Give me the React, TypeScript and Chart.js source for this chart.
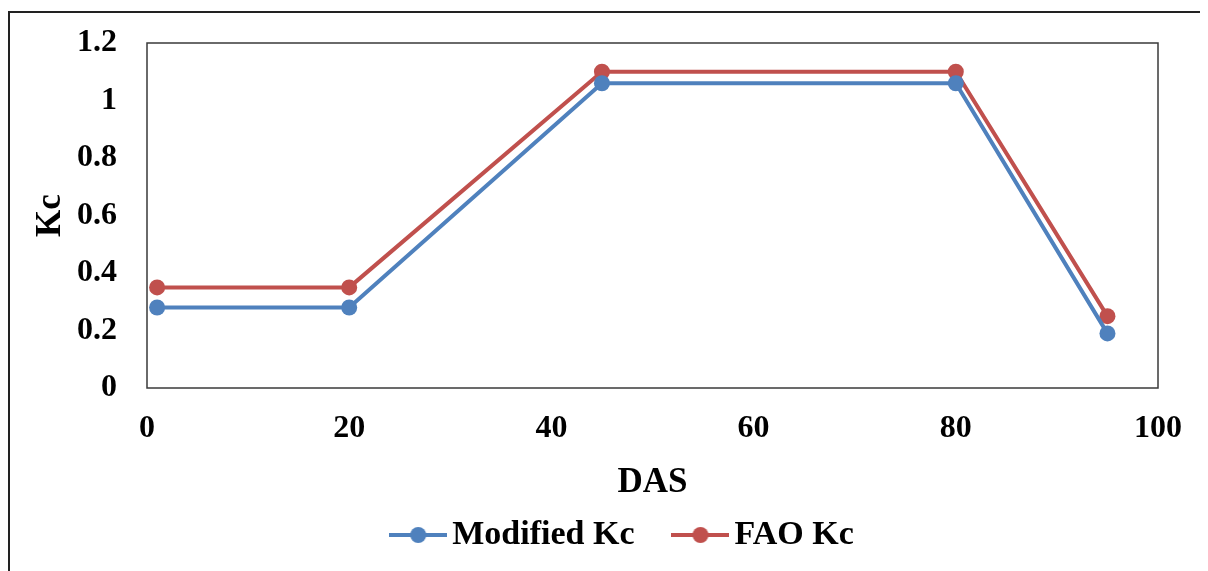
import React, { useEffect, useRef } from "react";
import { Chart, registerables } from "chart.js";

Chart.register(...registerables);

const das = [1, 20, 45, 80, 95];
const modifiedKc = [0.28, 0.28, 1.06, 1.06, 0.19];
const faoKc = [0.35, 0.35, 1.1, 1.1, 0.25];
const seriesNames = ["Modified Kc", "FAO Kc"];
const xTitle = "DAS";
const yTitle = "Kc";

const BLUE = "#4F81BD";
const RED = "#C0504D";
const FONT = "'Liberation Serif', 'Times New Roman', serif";

function makeMarker(color: string) {
  const c = document.createElement("canvas");
  c.width = 58;
  c.height = 20;
  const g = c.getContext("2d")!;
  g.strokeStyle = color;
  g.lineWidth = 4;
  g.beginPath();
  g.moveTo(0, 10);
  g.lineTo(58, 10);
  g.stroke();
  g.fillStyle = color;
  g.beginPath();
  g.arc(29, 10, 8, 0, Math.PI * 2);
  g.fill();
  return c;
}

const plotBorder = {
  id: "plotBorder",
  beforeDatasetsDraw(chart: any) {
    const { ctx, chartArea: a } = chart;
    ctx.save();
    ctx.strokeStyle = "#3a3a3a";
    ctx.lineWidth = 1.5;
    ctx.strokeRect(a.left, a.top, a.right - a.left, a.bottom - a.top);
    ctx.restore();
  },
};

const PL = 39;

export default function App() {
  const ref = useRef<HTMLCanvasElement>(null);
  useEffect(() => {
    const colors = [BLUE, RED];
    const markers = colors.map(makeMarker);
    const chart = new Chart(ref.current!, {
      type: "line",
      data: {
        datasets: [
          {
            label: seriesNames[0],
            data: das.map((x, i) => ({ x, y: modifiedKc[i] })),
            borderColor: BLUE,
            backgroundColor: BLUE,
            borderWidth: 4,
            pointRadius: 8,
            pointBorderWidth: 0,
            pointBackgroundColor: BLUE,
            tension: 0,
            clip: false as any,
          },
          {
            label: seriesNames[1],
            data: das.map((x, i) => ({ x, y: faoKc[i] })),
            borderColor: RED,
            backgroundColor: RED,
            borderWidth: 4,
            pointRadius: 8,
            pointBorderWidth: 0,
            pointBackgroundColor: RED,
            tension: 0,
            clip: false as any,
          },
        ],
      },
      options: {
        responsive: false,
        animation: false,
        events: [],
        layout: { padding: { left: PL, right: 0, top: 35, bottom: 46 } },
        plugins: {
          tooltip: { enabled: false },
          legend: {
            position: "bottom",
            labels: {
              usePointStyle: true,
              pointStyleWidth: 34,
              padding: 49,
              color: "#000",
              font: { family: FONT, size: 34, weight: "bold" },
              generateLabels: () =>
                seriesNames.map((t, i) => ({
                  text: t,
                  pointStyle: markers[i] as any,
                  fillStyle: colors[i],
                  strokeStyle: colors[i],
                  lineWidth: 0,
                  hidden: false,
                  datasetIndex: i,
                  fontColor: "#000",
                })),
            },
          },
        },
        scales: {
          x: {
            type: "linear",
            min: 0,
            max: 100,
            grid: { display: false, drawTicks: false },
            border: { display: false },
            ticks: {
              stepSize: 20,
              padding: 22,
              color: "#000",
              font: { family: FONT, size: 32, weight: "bold" },
            },
            title: {
              display: true,
              text: xTitle,
              color: "#000",
              font: { family: FONT, size: 35, weight: "bold" },
              padding: { top: 0, bottom: -34.5 },
            },
            afterFit: (s: any) => {
              s.height = 81;
            },
          },
          y: {
            type: "linear",
            min: 0,
            max: 1.2,
            grid: { display: false, drawTicks: false },
            border: { display: false },
            ticks: {
              stepSize: 0.2,
              padding: 30,
              color: "#000",
              font: { family: FONT, size: 32, weight: "bold" },
              callback: (v: any) => String(Number(Number(v).toFixed(1))),
            },
            title: {
              display: true,
              text: yTitle,
              color: "#000",
              font: { family: FONT, size: 35, weight: "bold" },
              padding: { top: -17, bottom: 0 },
            },
            afterFit: (s: any) => {
              s.width = 139 - PL;
              s.paddingTop = 0;
              s.paddingBottom = 0;
            },
          },
          y2: {
            type: "linear",
            position: "right",
            display: true,
            grid: { display: false, drawTicks: false },
            border: { display: false },
            ticks: { display: false },
            afterFit: (s: any) => {
              s.width = 50;
              s.paddingTop = 0;
              s.paddingBottom = 0;
            },
          },
        },
      },
      plugins: [plotBorder],
    } as any);
    return () => chart.destroy();
  }, []);

  return (
    <div style={{ position: "relative", width: 1200, height: 563, overflow: "hidden", background: "#fff" }}>
      <div
        style={{
          position: "absolute",
          left: 0,
          top: 3,
          width: 2000,
          height: 2000,
          borderTop: "2px solid #222",
          borderLeft: "2px solid #222",
        }}
      />
      <canvas
        ref={ref}
        width={1200}
        height={600}
        style={{ position: "absolute", left: 0, top: 0, width: 1200, height: 600 }}
      />
    </div>
  );
}
